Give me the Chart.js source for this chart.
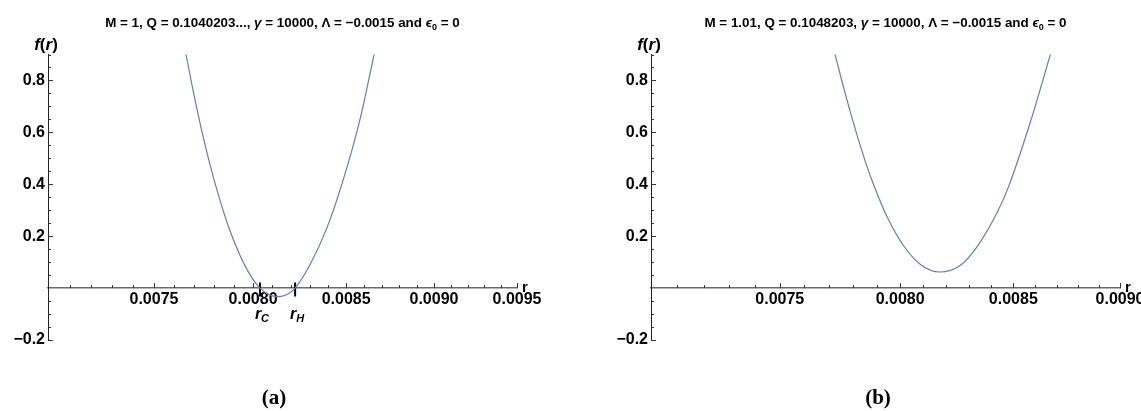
<!DOCTYPE html>
<html lang="en">
<head>
<meta charset="UTF-8" />
<title>f(r) near the horizons</title>
<script src="https://cdn.jsdelivr.net/npm/chart.js"></script>
<style>
  html, body { margin: 0; overflow: hidden; background: #fff; }
  body { width: 1141px; height: 411px; position: relative; }
  canvas { position: absolute; top: 0; }
  #chartA { left: 0; }
  #chartB { left: 570px; }
  .cap {
    position: absolute;
    top: 385px;
    width: 60px;
    text-align: center;
    font-family: 'Liberation Serif', 'Times New Roman', serif;
    font-weight: bold;
    font-size: 21px;
  }
</style>
</head>
<body>
<canvas id="chartA" width="570" height="411"></canvas>
<canvas id="chartB" width="600" height="411"></canvas>
<div class="cap" style="left:244px">(a)</div>
<div class="cap" style="left:848px">(b)</div>

<script>
  // panel (a): M = 1, Q = 0.1040203...
  const rA = [0.007652, 0.007694, 0.007736, 0.007778, 0.007829, 0.007880, 0.007932, 0.007983, 0.008036,
              0.008089, 0.008141, 0.008186, 0.008222, 0.008302, 0.008393, 0.008484, 0.008577, 0.008659];
  const fA = [0.923, 0.760, 0.610, 0.478, 0.340, 0.222, 0.127, 0.053, 0.000,
              -0.027, -0.033, -0.022, 0.000, 0.090, 0.230, 0.418, 0.650, 0.910];

  // panel (b): M = 1.01, Q = 0.1048203
  const rB = [0.007719, 0.007754, 0.007788, 0.007823, 0.007858, 0.007893, 0.007943, 0.008014, 0.008086, 0.008173,
              0.008261, 0.008336, 0.008426, 0.008478, 0.008578, 0.008674];
  const fB = [0.923, 0.798, 0.682, 0.572, 0.471, 0.384, 0.277, 0.164, 0.092, 0.062,
              0.087, 0.159, 0.290, 0.390, 0.640, 0.910];

  // horizon marks in (a)
  const rCval = 0.008036;
  const rHval = 0.008222;
  const markTop = 0.022;
  const markBottom = -0.032;

  // ticks
  const xTicksA = [0.0071, 0.0072, 0.0073, 0.0074, 0.0075, 0.0076, 0.0077, 0.0078, 0.0079, 0.0080,
                   0.0081, 0.0082, 0.0083, 0.0084, 0.0085, 0.0086, 0.0087, 0.0088, 0.0089, 0.0090,
                   0.0091, 0.0092, 0.0093, 0.0094, 0.0095];
  const xTicksB = [0.0071, 0.0072, 0.0073, 0.0074, 0.0075, 0.0076, 0.0077, 0.0078, 0.0079, 0.0080,
                   0.0081, 0.0082, 0.0083, 0.0084, 0.0085, 0.0086, 0.0087, 0.0088, 0.0089, 0.0090];
  const xMajor = ['0.0075', '0.0080', '0.0085', '0.0090', '0.0095'];
  const yTicks = [-0.2, -0.15, -0.1, -0.05, 0, 0.05, 0.1, 0.15, 0.2, 0.25, 0.3, 0.35, 0.4, 0.45,
                  0.5, 0.55, 0.6, 0.65, 0.7, 0.75, 0.8, 0.85, 0.9];
  const yMajor = ['-0.20', '0.20', '0.40', '0.60', '0.80'];

  const titleA = 'M = 1, Q = 0.1040203..., ';
  const titleB = 'M = 1.01, Q = 0.1048203, ';

  const SANS = "'Liberation Sans', Arial, sans-serif";
  const lineColor = '#5E81B5';

  function drawParts(ctx, parts, cx, base) {
    let w = 0;
    parts.forEach(p => { ctx.font = p.f; w += ctx.measureText(p.t).width; });
    let x = cx - w / 2;
    ctx.textAlign = 'left';
    ctx.textBaseline = 'alphabetic';
    parts.forEach(p => {
      ctx.font = p.f;
      ctx.fillText(p.t, x, base + (p.dy || 0));
      x += ctx.measureText(p.t).width;
    });
  }

  function titleParts(head) {
    const b = 'bold 13.4px ' + SANS, bi = 'italic bold 13.4px ' + SANS;
    return [
      { t: head, f: b },
      { t: 'γ', f: bi },
      { t: ' = 10000, Λ = −0.0015 and ', f: b },
      { t: 'ϵ', f: bi },
      { t: '0', f: 'bold 9px ' + SANS, dy: 3 },
      { t: ' = 0', f: b }
    ];
  }

  const axisDecor = {
    id: 'axisDecor',
    afterDraw(chart, args, opts) {
      const { ctx, chartArea, scales: { x, y } } = chart;
      const y0 = y.getPixelForValue(0);
      ctx.save();
      ctx.fillStyle = '#000';
      ctx.strokeStyle = '#333';
      ctx.lineWidth = 1;
      // ticks point inward like the original
      opts.xTicks.forEach(v => {
        const px = Math.round(x.getPixelForValue(v)) + 0.5;
        const len = xMajor.includes(v.toFixed(4)) ? 5 : 3;
        ctx.beginPath(); ctx.moveTo(px, y0); ctx.lineTo(px, y0 - len); ctx.stroke();
      });
      yTicks.forEach(v => {
        if (v === 0) return;
        const py = Math.round(y.getPixelForValue(v)) + 0.5;
        const len = yMajor.includes(v.toFixed(2)) ? 5 : 3;
        ctx.beginPath(); ctx.moveTo(chartArea.left, py); ctx.lineTo(chartArea.left + len, py); ctx.stroke();
      });

      drawParts(ctx, titleParts(opts.title), (chartArea.left + chartArea.right) / 2, 27);

      const fb = 'italic bold 17px ' + SANS, fu = 'bold 17px ' + SANS;
      drawParts(ctx, [{ t: 'f', f: fb }, { t: '(', f: fu }, { t: 'r', f: fb }, { t: ')', f: fu }],
                chartArea.left - 2, 50);

      ctx.font = 'bold 15px ' + SANS;
      ctx.textAlign = 'left';
      ctx.fillText('r', chartArea.right + 5, y0 + 4);

      if (opts.marks) {
        [[rCval, 'C'], [rHval, 'H']].forEach(([v, s]) => {
          drawParts(ctx, [{ t: 'r', f: 'italic bold 16px ' + SANS }, { t: s, f: 'italic bold 11px ' + SANS, dy: 3 }],
                    x.getPixelForValue(v) + 2, 319);
        });
      }
      ctx.restore();
    }
  };

  function makeChart(id, r, f, xMax, xTicks, title, marks, yWidth, padRight) {
    const datasets = [{
      data: r.map((v, i) => ({ x: v, y: f[i] })),
      borderColor: lineColor,
      borderWidth: 1.2,
      pointRadius: 0,
      cubicInterpolationMode: 'monotone',
      fill: false
    }];
    if (marks) {
      [rCval, rHval].forEach(v => datasets.push({
        data: [{ x: v, y: markTop }, { x: v, y: markBottom }],
        borderColor: '#000',
        borderWidth: 2,
        pointRadius: 0,
        fill: false
      }));
    }
    const tickFont = { family: SANS, weight: 'bold', size: 16 };
    return new Chart(document.getElementById(id), {
      type: 'line',
      data: { datasets },
      options: {
        responsive: false,
        animation: false,
        layout: { padding: { top: 54.5, bottom: 71, left: 0, right: padRight } },
        plugins: {
          legend: { display: false },
          tooltip: { enabled: false },
          axisDecor: { title, marks, xTicks }
        },
        scales: {
          x: {
            type: 'logarithmic',
            min: 0.0070,
            max: xMax,
            position: { y: 0 },
            afterBuildTicks: s => { s.ticks = xTicks.map(v => ({ value: v })); },
            grid: { display: true, drawOnChartArea: false, drawTicks: false },
            border: { color: '#6b6b6b', width: 1.6 },
            ticks: {
              autoSkip: false, maxRotation: 0, padding: 2, color: '#000', font: tickFont,
              callback: v => xMajor.includes(Number(v).toFixed(4)) ? Number(v).toFixed(4) : ''
            }
          },
          y: {
            type: 'linear',
            min: -0.2,
            max: 0.9,
            afterBuildTicks: s => { s.ticks = yTicks.map(v => ({ value: v })); },
            afterFit: s => { s.width = yWidth; },
            grid: { display: true, drawOnChartArea: false, drawTicks: false },
            border: { color: '#222', width: 1 },
            ticks: {
              autoSkip: false, padding: 3, color: '#000', font: tickFont,
              callback: v => yMajor.includes(Number(v).toFixed(2)) ? Number(v).toFixed(1).replace('-', '−') : ''
            }
          }
        }
      },
      plugins: [axisDecor]
    });
  }

  makeChart('chartA', rA, fA, 0.0095, xTicksA, titleA, true, 48, 53);
  makeChart('chartB', rB, fB, 0.0090, xTicksB, titleB, false, 81, 50);
</script>
</body>
</html>
